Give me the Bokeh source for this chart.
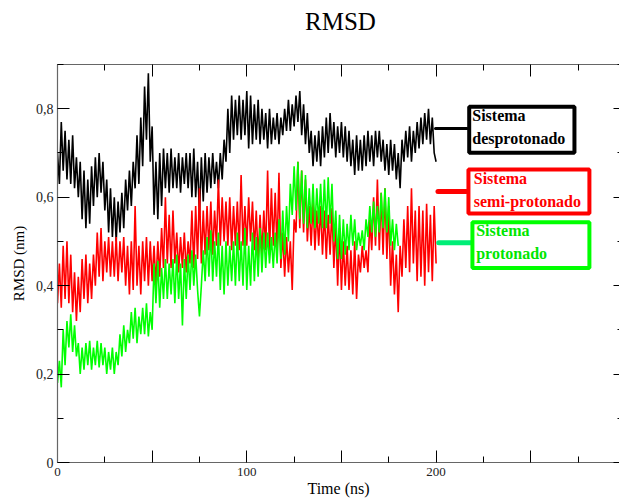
from bokeh.plotting import figure
from bokeh.models import (Range1d, LinearAxis, FixedTicker, BoxAnnotation, Label,
                          CustomJSTickFormatter, Div)
from bokeh.layouts import column
from bokeh.embed import file_html
from bokeh.resources import INLINE

# ---------------- data ----------------
time_ns = list(range(0, 201))          # sampling instants, ns
time_ns_prot = list(range(0, 181))     # protonated run ends near 180 ns

rmsd_desprotonado = [
    0.70, 0.63, 0.77, 0.66, 0.75, 0.64, 0.73, 0.63, 0.74, 0.62,
    0.69, 0.60, 0.68, 0.55, 0.66, 0.53, 0.64, 0.54, 0.67, 0.58,
    0.69, 0.60, 0.70, 0.61, 0.68, 0.57, 0.64, 0.52, 0.62, 0.51,
    0.60, 0.50, 0.59, 0.52, 0.61, 0.53, 0.64, 0.57, 0.66, 0.58,
    0.68, 0.62, 0.74, 0.63, 0.78, 0.67, 0.85, 0.73, 0.88, 0.68,
    0.76, 0.56, 0.68, 0.55, 0.70, 0.58, 0.71, 0.62, 0.70, 0.61,
    0.71, 0.62, 0.69, 0.62, 0.70, 0.61, 0.69, 0.63, 0.70, 0.62,
    0.70, 0.60, 0.71, 0.60, 0.68, 0.56, 0.69, 0.59, 0.70, 0.61,
    0.69, 0.62, 0.70, 0.63, 0.68, 0.62, 0.70, 0.64, 0.73, 0.68,
    0.80, 0.70, 0.83, 0.73, 0.82, 0.74, 0.83, 0.73, 0.82, 0.74,
    0.84, 0.71, 0.83, 0.72, 0.81, 0.73, 0.82, 0.72, 0.80, 0.73,
    0.79, 0.71, 0.80, 0.72, 0.78, 0.73, 0.79, 0.72, 0.78, 0.74,
    0.80, 0.75, 0.82, 0.75, 0.81, 0.76, 0.83, 0.77, 0.84, 0.74,
    0.81, 0.72, 0.79, 0.70, 0.75, 0.67, 0.74, 0.68, 0.75, 0.67,
    0.76, 0.69, 0.78, 0.70, 0.79, 0.71, 0.77, 0.69, 0.76, 0.70,
    0.77, 0.69, 0.76, 0.68, 0.75, 0.67, 0.73, 0.65, 0.74, 0.66,
    0.73, 0.66, 0.74, 0.67, 0.75, 0.68, 0.74, 0.67, 0.75, 0.69,
    0.75, 0.68, 0.73, 0.66, 0.72, 0.65, 0.73, 0.66, 0.72, 0.64,
    0.70, 0.62, 0.73, 0.68, 0.75, 0.69, 0.76, 0.68, 0.75, 0.70,
    0.77, 0.71, 0.78, 0.72, 0.79, 0.73, 0.80, 0.72, 0.78, 0.70,
    0.68,
]

rmsd_semiprotonado = [
    0.36, 0.45, 0.35, 0.49, 0.37, 0.50, 0.36, 0.47, 0.34, 0.43,
    0.32, 0.42, 0.34, 0.46, 0.37, 0.47, 0.36, 0.45, 0.37, 0.47,
    0.40, 0.52, 0.42, 0.53, 0.41, 0.50, 0.43, 0.51, 0.42, 0.50,
    0.42, 0.51, 0.41, 0.50, 0.43, 0.51, 0.40, 0.49, 0.38, 0.50,
    0.39, 0.58, 0.40, 0.49, 0.38, 0.50, 0.41, 0.51, 0.40, 0.50,
    0.41, 0.49, 0.40, 0.50, 0.42, 0.53, 0.44, 0.60, 0.45, 0.56,
    0.44, 0.57, 0.45, 0.52, 0.43, 0.51, 0.44, 0.52, 0.43, 0.50,
    0.45, 0.57, 0.44, 0.58, 0.46, 0.62, 0.45, 0.57, 0.47, 0.58,
    0.48, 0.59, 0.47, 0.57, 0.49, 0.64, 0.49, 0.60, 0.50, 0.59,
    0.49, 0.60, 0.48, 0.58, 0.49, 0.59, 0.48, 0.65, 0.49, 0.58,
    0.49, 0.60, 0.50, 0.59, 0.48, 0.57, 0.46, 0.56, 0.47, 0.57,
    0.48, 0.66, 0.47, 0.62, 0.49, 0.61, 0.48, 0.655, 0.44, 0.52,
    0.42, 0.51, 0.43, 0.50, 0.39, 0.55, 0.52, 0.68, 0.53, 0.66,
    0.52, 0.64, 0.50, 0.58, 0.49, 0.59, 0.48, 0.57, 0.49, 0.58,
    0.47, 0.57, 0.46, 0.56, 0.47, 0.575, 0.44, 0.54, 0.40, 0.53,
    0.39, 0.50, 0.40, 0.49, 0.39, 0.48, 0.38, 0.50, 0.37, 0.47,
    0.43, 0.49, 0.44, 0.48, 0.43, 0.55, 0.48, 0.60, 0.49, 0.64,
    0.48, 0.61, 0.47, 0.62, 0.46, 0.58, 0.40, 0.50, 0.38, 0.47,
    0.34, 0.49, 0.42, 0.55, 0.44, 0.58, 0.43, 0.62, 0.45, 0.57,
    0.41, 0.58, 0.42, 0.57, 0.40, 0.585, 0.43, 0.56, 0.41, 0.58,
    0.45,
]

rmsd_protonado = [
    0.18, 0.23, 0.17, 0.30, 0.22, 0.32, 0.26, 0.335, 0.25, 0.31,
    0.24, 0.27, 0.20, 0.26, 0.21, 0.27, 0.22, 0.275, 0.21, 0.26,
    0.22, 0.275, 0.215, 0.27, 0.22, 0.26, 0.20, 0.25, 0.21, 0.26,
    0.20, 0.25, 0.22, 0.29, 0.24, 0.31, 0.25, 0.30, 0.27, 0.34,
    0.28, 0.35, 0.27, 0.33, 0.29, 0.35, 0.29, 0.36, 0.285, 0.34,
    0.30, 0.45, 0.36, 0.456, 0.35, 0.44, 0.37, 0.46, 0.37, 0.45,
    0.38, 0.46, 0.36, 0.47, 0.37, 0.45, 0.31, 0.46, 0.37, 0.47,
    0.39, 0.48, 0.40, 0.47, 0.39, 0.33, 0.40, 0.48, 0.41, 0.51,
    0.42, 0.525, 0.41, 0.50, 0.42, 0.52, 0.39, 0.49, 0.38, 0.50,
    0.40, 0.49, 0.41, 0.50, 0.40, 0.52, 0.41, 0.50, 0.40, 0.53,
    0.39, 0.49, 0.40, 0.52, 0.41, 0.51, 0.42, 0.53, 0.43, 0.52,
    0.44, 0.52, 0.45, 0.51, 0.44, 0.52, 0.45, 0.55, 0.46, 0.57,
    0.47, 0.58, 0.50, 0.63, 0.56, 0.67, 0.57, 0.68, 0.55, 0.66,
    0.54, 0.65, 0.53, 0.62, 0.54, 0.63, 0.53, 0.62, 0.54, 0.63,
    0.53, 0.64, 0.53, 0.645, 0.54, 0.63, 0.50, 0.57, 0.46, 0.56,
    0.46, 0.55, 0.47, 0.54, 0.48, 0.56, 0.49, 0.55, 0.48, 0.52,
    0.49, 0.525, 0.48, 0.55, 0.51, 0.58, 0.52, 0.59, 0.51, 0.58,
    0.52, 0.61, 0.53, 0.62, 0.52, 0.60, 0.49, 0.55, 0.48, 0.54,
    0.49,
]

x_major_ticks = [0, 50, 100, 150, 200, 250, 300]
x_minor_ticks = [25, 75, 125, 175, 225, 275]
y_major_ticks = [0, 0.2, 0.4, 0.6, 0.8]
y_minor_ticks = [0.1, 0.3, 0.5, 0.7, 0.9]

title_text = "RMSD"
legend_texts = ["Sistema\ndesprotonado", "Sistema\nsemi-protonado", "Sistema\nprotonado"]

SERIF = "Liberation Serif"
BLACK = "#000000"
RED = "#ff0000"
GREEN = "#00ff00"

TITLE_H = 40

# ---------------- title (HTML text above the figure) ----------------
title_div = Div(text=title_text, width=619, height=TITLE_H,
                styles={"font-family": "'Liberation Serif', serif", "font-size": "25px",
                        "color": "black", "text-align": "center",
                        "padding-left": "62px", "box-sizing": "border-box",
                        "line-height": "44px", "margin": "0"})

# ---------------- figure ----------------
p = figure(width=619, height=501 - TITLE_H, output_backend="svg", toolbar_location=None,
           title=None,
           x_range=Range1d(0, 296.9), y_range=Range1d(0, 0.9),
           x_axis_location=None, y_axis_location=None,
           min_border_left=57, min_border_right=0, min_border_top=64 - TITLE_H,
           min_border_bottom=39,
           background_fill_color="white", border_fill_color="white")
p.outline_line_color = None
p.xgrid.visible = False
p.ygrid.visible = False

blank = CustomJSTickFormatter(code="return '';")

def style_axis(ax, labels=True):
    ax.axis_line_color = "#666666"
    ax.axis_line_width = 1.2
    ax.major_tick_line_color = "black"
    ax.minor_tick_line_color = "black"
    ax.major_tick_in = 12
    ax.major_tick_out = 0
    ax.minor_tick_in = 6
    ax.minor_tick_out = 0
    if labels:
        ax.major_label_text_font = SERIF
        ax.major_label_text_color = "#222222"
        ax.axis_label_text_font = SERIF
        ax.axis_label_text_font_style = "normal"
        ax.axis_label_text_color = "black"
    else:
        ax.formatter = blank
        ax.major_label_standoff = 0

xt = FixedTicker(ticks=x_major_ticks, minor_ticks=x_minor_ticks)
yt = FixedTicker(ticks=y_major_ticks, minor_ticks=y_minor_ticks)

xb = LinearAxis(ticker=xt, axis_label="Time (ns)")
style_axis(xb)
xb.major_label_overrides = {50: "", 150: "", 250: ""}
xb.major_label_text_font_size = "13px"
xb.axis_label_text_font_size = "16px"
xb.major_label_standoff = 5
xb.axis_label_standoff = 1
p.add_layout(xb, "below")

yl = LinearAxis(ticker=yt, axis_label="RMSD (nm)")
style_axis(yl)
yl.formatter = CustomJSTickFormatter(
    code="return tick == 0 ? '0' : tick.toFixed(1).replace('.', ',');")
yl.major_label_text_font_size = "14px"
yl.axis_label_text_font_size = "15px"
yl.major_label_standoff = 4
yl.axis_label_standoff = 6
p.add_layout(yl, "left")

xa = LinearAxis(ticker=xt)
style_axis(xa, labels=False)
p.add_layout(xa, "above")

yr = LinearAxis(ticker=yt)
style_axis(yr, labels=False)
yr.axis_line_color = None
yr.major_tick_in = 6
yr.minor_tick_in = 2
p.add_layout(yr, "right")

# ---------------- series ----------------
p.line(time_ns, rmsd_desprotonado, line_color=BLACK, line_width=1.6)
p.line(time_ns, rmsd_semiprotonado, line_color=RED, line_width=1.6)
p.line(time_ns_prot, rmsd_protonado, line_color=GREEN, line_width=1.6)

# ---------------- legend boxes (annotations) ----------------
boxes = [
    dict(left=217.5, right=273.1, top=0.8046, bottom=0.7005, color=BLACK,
         tx=219.1, ty=0.803, tcolor=BLACK, lx0=199.7, lx1=216.4, ly=0.755,
         lcolor=BLACK, lw=3),
    dict(left=217.1, right=281.0, top=0.6627, bottom=0.5631, color=RED,
         tx=219.9, ty=0.661, tcolor=RED, lx0=201.0, lx1=216.0, ly=0.613,
         lcolor=RED, lw=5),
    dict(left=219.2, right=281.0, top=0.5431, bottom=0.4401, color=GREEN,
         tx=221.2, ty=0.544, tcolor="#00e600", lx0=201.4, lx1=218.2, ly=0.497,
         lcolor="#00ee77", lw=5),
]
for b, txt in zip(boxes, legend_texts):
    p.segment(x0=[b["lx0"]], y0=[b["ly"]], x1=[b["lx1"]], y1=[b["ly"]],
              line_color=b["lcolor"], line_width=b["lw"], line_cap="round")
    p.add_layout(BoxAnnotation(left=b["left"], right=b["right"], top=b["top"],
                               bottom=b["bottom"], fill_color="white", fill_alpha=1.0,
                               line_color=b["color"], line_width=4, line_alpha=1.0))
    p.add_layout(Label(x=b["tx"], y=b["ty"], text=txt, text_font=SERIF,
                       text_font_style="bold", text_font_size="16px",
                       text_color=b["tcolor"], text_baseline="top", text_align="left",
                       text_line_height=1.35))

layout = column(title_div, p, spacing=0)
open("out.html", "w").write(file_html(layout, INLINE))
